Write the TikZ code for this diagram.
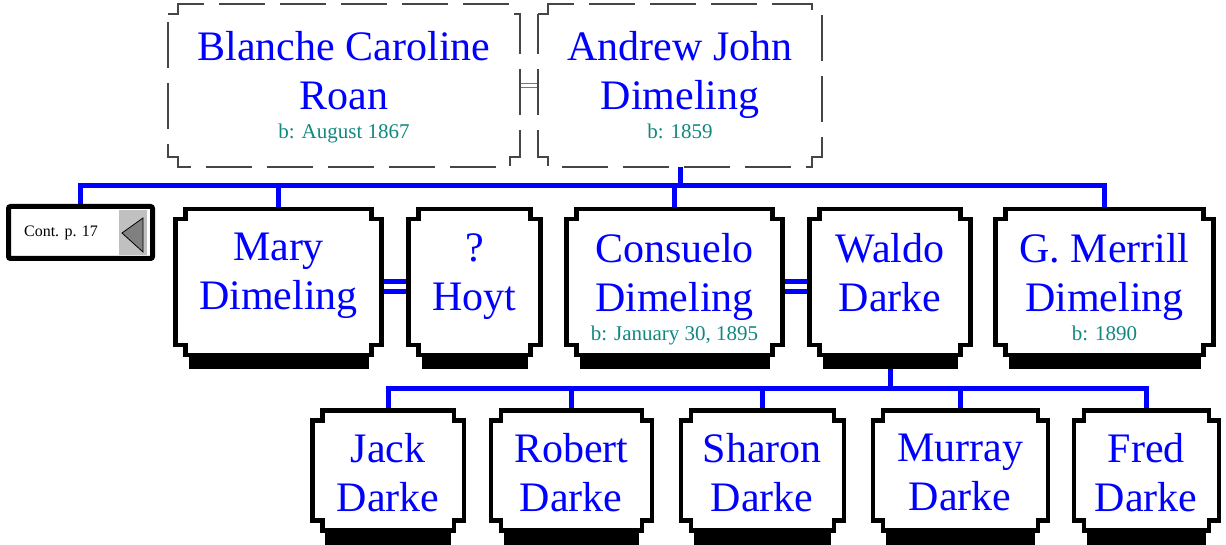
\documentclass[tikz,border=0pt]{standalone}
\usepackage{fontspec}
\setmainfont{Liberation Serif}
\usetikzlibrary{positioning,calc}

\definecolor{namecol}{RGB}{0,0,255}
\definecolor{datecol}{RGB}{16,136,128}
\definecolor{spousecol}{RGB}{70,70,70}
\definecolor{marrcol}{RGB}{100,100,255}
\definecolor{panelcol}{RGB}{192,192,192}
\definecolor{tipcol}{RGB}{128,128,128}

\newcommand{\datefont}{\color{datecol}\fontsize{21}{25}\selectfont}
% outline with square notches cut into the four corners
\newcommand{\notchbox}[2]{%
  \draw[#2] ($(#1.north west)+(0pt,-10pt)$) -- ++(10pt,0pt) -- ++(0pt,10pt)
    -- ($(#1.north east)+(-10pt,0pt)$) -- ++(0pt,-10pt) -- ++(10pt,0pt)
    -- ($(#1.south east)+(0pt,10pt)$) -- ++(-10pt,0pt) -- ++(0pt,-10pt)
    -- ($(#1.south west)+(10pt,0pt)$) -- ++(0pt,10pt) -- ++(-10pt,0pt) -- cycle;}

\begin{document}
\begin{tikzpicture}[
            x=1pt, y=-1pt,
            person/.style={rectangle, inner sep=0pt, outer sep=0pt},
            personline/.style={line width=4.5pt, line join=miter},
            spouse/.style={line width=1.3pt, draw=spousecol, dash pattern=on 46pt off 15pt},
            nametext/.style={inner sep=0pt, align=center, text=namecol, font=\fontsize{42}{49}\selectfont},
            link/.style={draw=namecol, line width=5pt},
            marriage/.style={draw=namecol, line width=5pt, double=white, double distance=5pt},
            thinmarriage/.style={draw=marrcol, line width=1.2pt, double=white, double distance=2.5pt},
            boxshadow/.style={fill=black}
        ]
        \useasboundingbox (0,0) rectangle (1226,545);

        % parents
        \node[person, minimum width=352pt, minimum height=163pt] (blanche) at (344,85.5) {};
        \node[person, minimum width=284pt, minimum height=163pt] (andrew) at (680,85.5) {};

        % children
        \node[person, minimum width=206pt, minimum height=146pt] (mary) at (278.5,282) {};
        \node[person, minimum width=132pt, minimum height=146pt, right=27pt of mary] (hoyt) {};
        \node[person, minimum width=216pt, minimum height=146pt, right=26pt of hoyt] (consuelo) {};
        \node[person, minimum width=161pt, minimum height=146pt, right=27pt of consuelo] (waldo) {};
        \node[person, minimum width=218pt, minimum height=146pt, right=25pt of waldo] (merrill) {};

        % grandchildren
        \node[person, minimum width=151.5pt, minimum height=120pt] (jack) at (388,470.5) {};
        \node[person, minimum width=161pt, minimum height=120pt, right=27pt of jack] (robert) {};
        \node[person, minimum width=163pt, minimum height=120pt, right=29pt of robert] (sharon) {};
        \node[person, minimum width=175pt, minimum height=120pt, right=29pt of sharon] (murray) {};
        \node[person, minimum width=145pt, minimum height=120pt, right=26pt of murray] (fred) {};

        % continuation box
        \node[draw, line width=5pt, rounded corners=2pt, minimum width=144pt, minimum height=52pt, inner sep=0pt] (cont) at (80.5,232.5) {};
        \node[inner sep=0pt, font=\fontsize{16}{19}\selectfont] (conttxt) at (61,233) {Cont. p. 17};
        \fill[panelcol] (119,210) rectangle (147,255);
        \filldraw[fill=tipcol, draw=black, line width=0.8pt] (122,233) -- (143,218) -- (143,252) -- cycle;

        % names
        \node[nametext, below=27pt of blanche.north] (blanchetxt) {Blanche Caroline\\Roan\\[-20pt]{\datefont b: August 1867}};
        \node[nametext, below=27pt of andrew.north] (andrewtxt) {Andrew John\\Dimeling\\[-20pt]{\datefont b: 1859}};
        \node[nametext, below=24pt of mary.north] (marytxt) {Mary\\Dimeling};
        \node[nametext, below=24pt of hoyt.north] (hoyttxt) {?\\Hoyt};
        \node[nametext, below=24pt of consuelo.north] (consuelotxt) {Consuelo\\Dimeling\\[-20pt]{\datefont b: January 30, 1895}};
        \node[nametext, below=24pt of waldo.north] (waldotxt) {Waldo\\Darke};
        \node[nametext, below=24pt of merrill.north] (merrilltxt) {G. Merrill\\Dimeling\\[-20pt]{\datefont b: 1890}};
        \node[nametext, below=23pt of jack.north] (jacktxt) {Jack\\Darke};
        \node[nametext, below=23pt of robert.north] (roberttxt) {Robert\\Darke};
        \node[nametext, below=23pt of sharon.north] (sharontxt) {Sharon\\Darke};
        \node[nametext, below=23pt of murray.north] (murraytxt) {Murray\\Darke};
        \node[nametext, below=23pt of fred.north] (fredtxt) {Fred\\Darke};

        % family lines
        \coordinate (fam) at (680,186);
        \coordinate (kids) at (890,388);
        \draw[link] (andrew.south) -- (fam);
        \draw[link] (cont.north) |- (fam) -| (merrill.north);
        \draw[link] (mary.north) -- (mary.north |- fam);
        \draw[link] (consuelo.north) -- (consuelo.north |- fam);
        \draw[link] (waldo.south) -- (kids);
        \draw[link] (jack.north) |- (kids) -| (fred.north);
        \foreach \k in {robert,sharon,murray}
            \draw[link] (\k.north) -- (\k.north |- kids);
        \draw[thinmarriage] (blanche.east) -- (andrew.west);
        \draw[marriage] ([yshift=-5pt]mary.east) -- ([yshift=-5pt]hoyt.west);
        \draw[marriage] ([yshift=-5pt]consuelo.east) -- ([yshift=-5pt]waldo.west);

        % boxes
        \foreach \b in {mary,hoyt,consuelo,waldo,merrill,jack,robert,sharon,murray,fred} {
            \fill[boxshadow] ($(\b.south west)+(13pt,0pt)$) rectangle ($(\b.south east)+(-13pt,-14pt)$);
            \notchbox{\b}{personline}
        }
        \notchbox{blanche}{spouse}
        \notchbox{andrew}{spouse}
\end{tikzpicture}
\end{document}
